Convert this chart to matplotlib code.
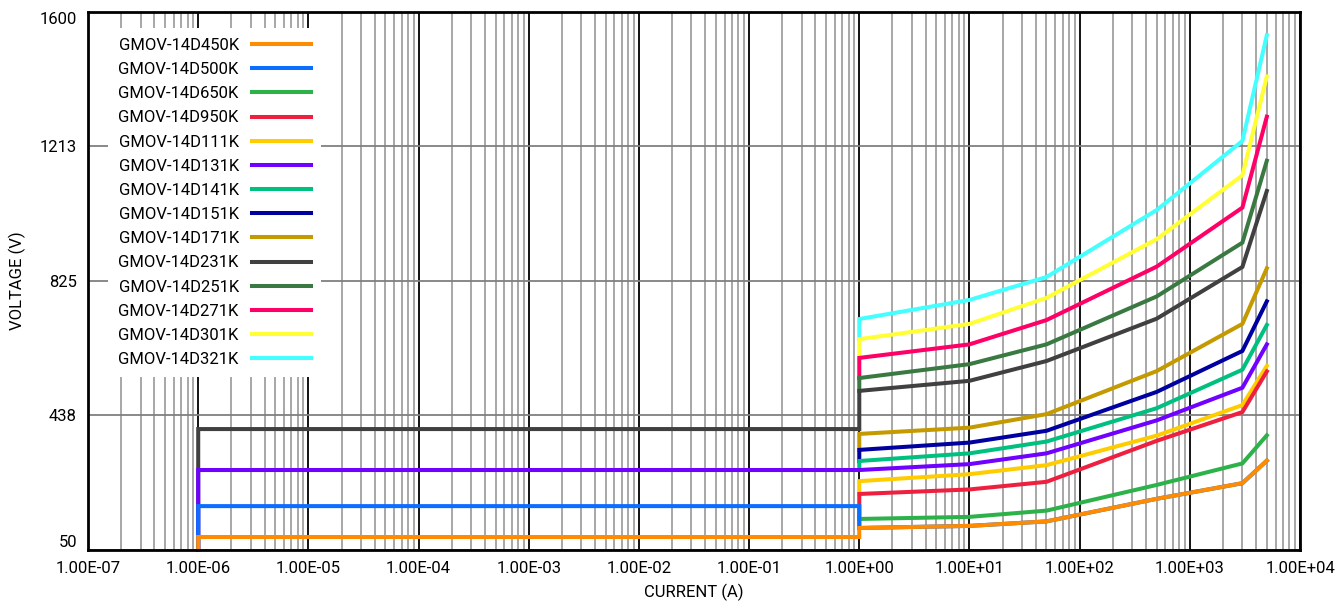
import matplotlib
matplotlib.use("Agg")
import matplotlib.pyplot as plt
from matplotlib.ticker import FixedLocator, LogLocator, NullFormatter

plt.rcParams['font.family'] = ['Liberation Sans Narrow', 'Roboto', 'DejaVu Sans']

# current points (A)
x_step = [1, 1, 10, 50, 500, 3000, 5000]
x_flat = [1e-6, 1e-6, 1, 1, 10, 50, 500, 3000, 5000]

names = ["GMOV-14D450K", "GMOV-14D500K", "GMOV-14D650K", "GMOV-14D950K",
         "GMOV-14D111K", "GMOV-14D131K", "GMOV-14D141K", "GMOV-14D151K",
         "GMOV-14D171K", "GMOV-14D231K", "GMOV-14D251K", "GMOV-14D271K",
         "GMOV-14D301K", "GMOV-14D321K"]

colors = ["#FF8C00", "#0A6EFF", "#2DB24A", "#EE2040", "#FFCC00", "#7000FF",
          "#00C080", "#0000A0", "#C49A00", "#404040", "#3A7A42", "#FF0066",
          "#FFFF33", "#44FFFF"]

# voltage (V)
v450 = [50, 86, 86, 112, 118, 131, 196, 241, 306]
v500 = [50, 175, 175, 112, 118, 131, 196, 241, 306]
v650 = [112, 138, 144, 162, 236, 298, 379]
v950 = [138, 210, 223, 245, 363, 446, 563]
v111 = [210, 247, 267, 293, 378, 466, 579]
v131 = [50, 279, 279, 279, 296, 327, 422, 516, 641]
v141 = [279, 305, 327, 361, 457, 568, 697]
v151 = [305, 337, 358, 392, 504, 622, 765]
v171 = [337, 383, 401, 440, 564, 700, 860]
v231 = [50, 397, 397, 507, 536, 593, 715, 864, 1083]
v251 = [507, 544, 584, 641, 779, 934, 1170]
v271 = [544, 602, 641, 711, 865, 1035, 1297]
v301 = [602, 656, 700, 775, 944, 1128, 1413]
v321 = [656, 714, 769, 835, 1028, 1227, 1532]

series = [v450, v500, v650, v950, v111, v131, v141, v151, v171,
          v231, v251, v271, v301, v321]

y_ticks = [50, 438, 825, 1213, 1600]

fig = plt.figure(figsize=(13.38, 6.09), dpi=100)
ax = fig.add_axes([0.0658, 0.0977, 0.9058, 0.8834])

handles = [None] * len(names)
# draw last series first so the lower curves sit on top
for i in reversed(range(len(names))):
    vals = series[i]
    xs = x_flat if len(vals) == len(x_flat) else x_step
    ln, = ax.plot(xs, vals, color=colors[i], lw=2.9, label=names[i],
                  solid_joinstyle='miter', clip_on=False, zorder=3)
    handles[i] = ln

ax.set_xscale('log')
ax.set_xlim(1e-7, 1e4)
ax.set_ylim(50, 1600)

ax.xaxis.set_major_locator(LogLocator(base=10, numticks=20))
ax.xaxis.set_minor_locator(LogLocator(base=10, subs=range(2, 10), numticks=200))
ax.xaxis.set_minor_formatter(NullFormatter())
ax.set_xticks([10.0 ** k for k in range(-7, 5)])
ax.set_xticklabels(["%.2E" % (10.0 ** k) for k in range(-7, 5)], fontsize=12)

ax.yaxis.set_major_locator(FixedLocator(y_ticks))
ax.set_yticklabels([str(v) for v in y_ticks], fontsize=12)
ylabs = ax.get_yticklabels()
ylabs[0].set_va('bottom')
ylabs[-1].set_va('top')

ax.tick_params(axis='both', which='both', length=0, pad=8)
ax.grid(True, axis='x', which='major', color='black', lw=1.3, zorder=1)
ax.grid(True, axis='x', which='minor', color='#a0a0a0', lw=1.3, zorder=1)
ax.grid(True, axis='y', which='major', color='#808080', lw=1.3, zorder=1)
for s in ax.spines.values():
    s.set_linewidth(2)
    s.set_zorder(4)

ax.set_xlabel("CURRENT (A)", fontsize=12, labelpad=6)
ax.set_ylabel("VOLTAGE (V)", fontsize=12, labelpad=10)

leg = ax.legend(handles=handles, loc='upper left', bbox_to_anchor=(0.01, 0.985),
                markerfirst=False, frameon=True, fontsize=12, handlelength=3.5,
                handletextpad=0.8, labelspacing=0.55, borderpad=0.6)
leg.get_frame().set_facecolor('white')
leg.get_frame().set_edgecolor('none')
leg.get_frame().set_alpha(1)
leg.set_zorder(5)

fig.savefig("out.png", dpi=100, facecolor='white')
